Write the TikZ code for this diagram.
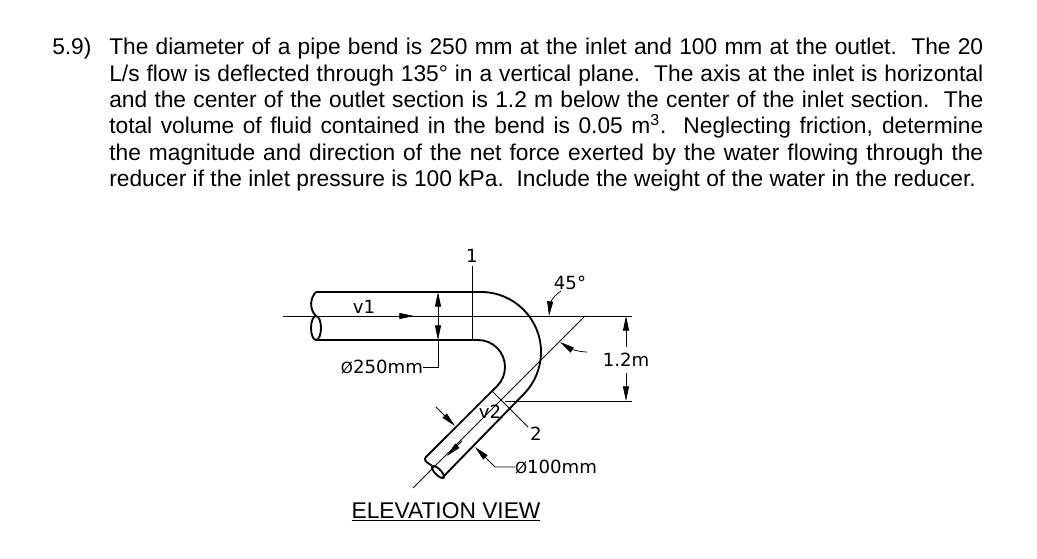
\documentclass[tikz,border=0pt]{standalone}
\usepackage{fontspec}
\setmainfont{Liberation Sans}
\newfontfamily\cadfont{DejaVu Sans}
\usetikzlibrary{arrows.meta}

\newcommand{\diasign}{{\fontsize{11.5pt}{15pt}\selectfont Ø}}

\tikzset{
    pipeline/.style={line width=1.4pt},
    thinline/.style={line width=0.55pt},
    dimarrow/.style={thinline, -{Triangle[length=11pt, width=4.5pt]}},
    cadlabel/.style={inner sep=0pt, outer sep=2.5pt, font=\cadfont\fontsize{13.6pt}{15pt}\selectfont},
    bodytext/.style={inner sep=0pt, font=\fontsize{17.07pt}{19.72pt}\selectfont},
}

\begin{document}
\begin{tikzpicture}[x=0.75pt, y=-0.75pt]
        \useasboundingbox (0, 0) rectangle (1037, 559);

        % Problem statement
        \node[bodytext, anchor=base west] (num) at (52, 55) {5.9)};
        \node[bodytext, anchor=base west, text width=655.5pt, align=justify] (statement) at (109, 55) {%
            The diameter of a pipe bend is 250 mm at the inlet and 100 mm at the outlet.\ \ The 20\linebreak
            L/s flow is deflected through 135° in a vertical plane.\ \ The axis at the inlet is horizontal\linebreak
            and the center of the outlet section is 1.2 m below the center of the inlet section.\ \ The\linebreak
            total volume of fluid contained in the bend is 0.05 m\textsuperscript{3}.\ \ Neglecting friction, determine\linebreak
            the magnitude and direction of the net force exerted by the water flowing through the\linebreak
            reducer if the inlet pressure is 100 kPa.\ \ Include the weight of the water in the reducer.};

        % Points
        \coordinate (inTop) at (316, 292);
        \coordinate (inBot) at (316, 340);
        \coordinate (inMid) at (316, 316);
        \coordinate (outerA) at (481, 292);
        \coordinate (outerC) at (443, 477);
        \coordinate (innerA) at (478, 340);
        \coordinate (innerC) at (425, 458);
        \coordinate (outEnd) at (438, 472);

        % Pipe
        \draw[pipeline] (inTop) -- (outerA) arc[start angle=-90, end angle=45, radius=60] -- (outerC);
        \draw[pipeline] (inBot) -- (innerA) arc[start angle=-90, end angle=45, radius=27] -- (innerC);
        \draw[pipeline] (inTop) .. controls (310, 298) and (309, 309) .. (inMid);
        \draw[pipeline] (316, 328) ellipse (5 and 12);
        \draw[pipeline] (innerC) .. controls (424, 462) and (429, 463) .. (432, 466);
        \draw[pipeline, rotate around={-45:(outEnd)}] (outEnd) ellipse (8 and 3);

        % Center lines
        \coordinate (axisL) at (283, 316);
        \coordinate (axisR) at (632, 316);
        \coordinate (axisCorner) at (585, 316);
        \coordinate (axisEnd) at (413, 488);
        \draw[thinline] (axisL) -- (axisR);
        \draw[thinline] (axisCorner) -- (axisEnd);
        \draw[dimarrow] (396, 316) -- (414, 316);
        \draw[dimarrow] (462, 441) -- (447, 456);

        % Sections
        \node[cadlabel] (sec1) at (472, 256) {1};
        \node[cadlabel] (sec2) at (536, 434) {2};
        \coordinate (sec1foot) at (472, 340);
        \coordinate (sec2foot) at (493, 392);
        \coordinate (sec2end) at (528, 427);
        \draw[thinline] (sec1) -- (sec1foot);
        \draw[thinline] (sec2foot) -- (sec2end);

        % Inlet diameter
        \node[cadlabel, anchor=east, outer sep=0pt] (dia250) at (423, 367) {\diasign 250mm};
        \coordinate (dimElbow) at (438, 367);
        \coordinate (dimTop) at (438, 292);
        \coordinate (dimBot) at (438, 340);
        \draw[dimarrow] (438, 316) -- (dimTop);
        \draw[dimarrow] (438, 316) -- (dimBot);
        \draw[thinline] (dia250) -- (dimElbow) -- (dimBot);

        % Outlet diameter
        \node[cadlabel, anchor=west, outer sep=0pt] (dia100) at (515, 467) {\diasign 100mm};
        \coordinate (dimElbowB) at (495, 467);
        \coordinate (dimTipB) at (475, 447);
        \coordinate (dimTailA) at (436, 407);
        \coordinate (dimTipA) at (455, 426);
        \draw[dimarrow] (dia100) -- (dimElbowB) -- (dimTipB);
        \draw[dimarrow] (dimTailA) -- (dimTipA);

        % Drop
        \node[cadlabel, outer sep=5pt] (drop) at (626, 360) {1.2m};
        \coordinate (dropTop) at (626, 316);
        \coordinate (dropBot) at (626, 401);
        \coordinate (dropL) at (505, 401);
        \coordinate (dropR) at (632, 401);
        \draw[dimarrow] (drop) -- (dropTop);
        \draw[dimarrow] (drop) -- (dropBot);
        \draw[thinline] (dropL) -- (dropR);

        % Angle
        \node[cadlabel] (angle) at (570, 283) {45°};
        \coordinate (angleTip) at (549, 316);
        \coordinate (angleTipB) at (560, 342);
        \draw[dimarrow] (561, 291) .. controls (553, 296) and (550, 304) .. (angleTip);
        \draw[dimarrow] (587, 352) .. controls (578, 352) and (569, 348) .. (angleTipB);

        % Flow labels
        \node[cadlabel] (v1) at (364, 307) {v1};
        \node[cadlabel] (v2) at (490, 412) {v2};

        % Caption
        \node[bodytext, anchor=base] (caption) at (446, 518) {\underline{ELEVATION VIEW}};
    \end{tikzpicture}
\end{document}
